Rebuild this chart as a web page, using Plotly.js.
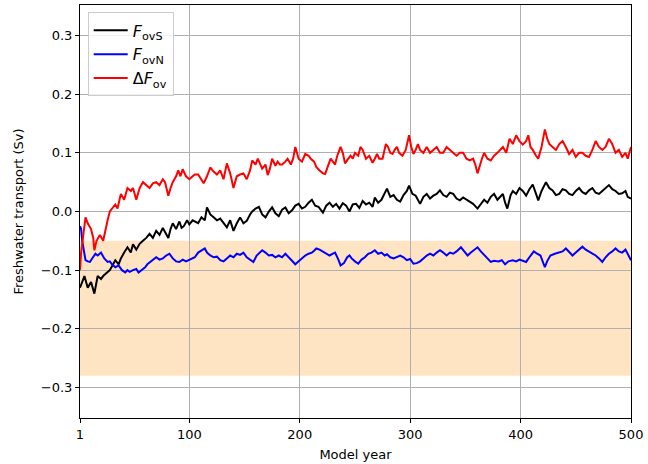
<!DOCTYPE html>
<html>
<head>
<meta charset="utf-8">
<script src="https://cdn.plot.ly/plotly-3.0.1.min.js"></script>
<style>html,body{margin:0;padding:0;background:#fff;}#chart{width:648px;height:464px;}</style>
</head>
<body>
<div id="chart"></div>
<script>
// F_ovS (black)
const yearsS = [1,3,5,8,11,14,17,20,22,25,28,31,33,36,38,41,44,47,49,52,55,58,61,64,67,70,73,76,78,81,83,85,88,91,93,95,98,100,103,105,108,111,114,116,119,122,125,128,131,134,137,140,143,146,149,152,155,157,160,163,166,169,172,175,178,181,184,187,190,193,196,199,202,205,208,211,214,217,221,224,227,230,233,236,239,242,245,248,251,254,257,260,263,266,268,271,274,277,279,282,285,288,291,294,297,299,302,305,309,312,315,318,321,324,327,330,333,336,339,342,345,348,351,354,357,361,364,367,370,373,376,379,382,384,386,388,391,393,396,399,402,405,408,411,414,416,419,423,426,429,432,435,438,441,444,447,450,453,456,459,462,465,468,471,474,477,480,483,486,489,492,495,497,500];
const fovS = [-0.13,-0.12,-0.11,-0.13,-0.12,-0.14,-0.11,-0.115,-0.11,-0.105,-0.10,-0.09,-0.083,-0.09,-0.08,-0.07,-0.061,-0.07,-0.056,-0.065,-0.055,-0.05,-0.045,-0.038,-0.045,-0.033,-0.04,-0.028,-0.035,-0.045,-0.03,-0.02,-0.03,-0.017,-0.028,-0.025,-0.015,-0.022,-0.015,-0.017,-0.02,-0.01,-0.015,0.007,-0.005,-0.01,-0.015,-0.012,-0.02,-0.027,-0.015,-0.033,-0.02,-0.01,-0.02,-0.016,-0.005,0.0,0.005,0.008,-0.005,-0.01,0.0,0.007,-0.003,-0.008,0.003,0.007,-0.003,0.002,0.01,0.013,0.005,0.008,0.015,0.02,0.01,0.008,-0.002,0.01,0.015,0.008,0.013,0.005,0.014,0.01,0.0,0.012,0.013,0.006,0.018,0.012,0.015,0.008,0.024,0.015,0.02,0.03,0.039,0.025,0.028,0.02,0.017,0.028,0.035,0.044,0.03,0.027,0.013,0.025,0.03,0.022,0.027,0.03,0.036,0.028,0.025,0.032,0.03,0.022,0.019,0.024,0.02,0.016,0.013,0.005,0.012,0.02,0.015,0.025,0.03,0.02,0.026,0.03,0.015,0.005,0.028,0.035,0.03,0.04,0.035,0.027,0.038,0.046,0.03,0.019,0.035,0.05,0.04,0.036,0.028,0.03,0.038,0.036,0.03,0.028,0.035,0.04,0.033,0.03,0.036,0.04,0.032,0.03,0.035,0.04,0.045,0.038,0.035,0.03,0.031,0.035,0.025,0.022];

// F_ovN (blue)
const yearsN = [1,2,3,5,6,8,10,12,15,17,19,20,23,26,28,30,33,36,39,42,44,46,49,52,54,57,60,62,65,68,70,73,76,79,82,85,88,91,94,97,100,103,105,108,110,112,114,116,119,122,125,128,131,134,137,140,143,146,149,152,155,158,161,163,166,169,172,175,178,181,184,187,190,193,196,199,202,205,208,211,213,215,218,221,224,227,230,232,235,237,240,243,245,247,250,253,256,259,262,265,268,271,274,277,279,282,285,288,291,294,297,300,303,306,309,312,315,318,321,324,327,330,333,336,339,342,346,349,352,355,358,361,364,367,370,373,376,380,383,386,389,393,396,399,402,405,408,412,415,418,420,422,424,427,431,435,438,441,444,447,450,453,456,459,462,465,468,471,474,477,480,483,486,489,492,495,497,500];
const fovN = [-0.025,-0.03,-0.05,-0.075,-0.083,-0.085,-0.086,-0.08,-0.072,-0.075,-0.072,-0.07,-0.08,-0.086,-0.085,-0.09,-0.095,-0.092,-0.1,-0.104,-0.1,-0.103,-0.1,-0.098,-0.104,-0.1,-0.095,-0.09,-0.085,-0.08,-0.078,-0.082,-0.08,-0.075,-0.072,-0.08,-0.085,-0.086,-0.082,-0.085,-0.082,-0.08,-0.078,-0.07,-0.068,-0.065,-0.063,-0.07,-0.075,-0.078,-0.077,-0.083,-0.085,-0.08,-0.075,-0.078,-0.072,-0.074,-0.07,-0.078,-0.082,-0.086,-0.075,-0.072,-0.066,-0.07,-0.075,-0.074,-0.078,-0.075,-0.078,-0.072,-0.078,-0.085,-0.09,-0.085,-0.08,-0.075,-0.072,-0.07,-0.067,-0.063,-0.065,-0.068,-0.072,-0.075,-0.072,-0.07,-0.082,-0.092,-0.088,-0.078,-0.075,-0.08,-0.085,-0.089,-0.082,-0.078,-0.072,-0.07,-0.066,-0.072,-0.07,-0.075,-0.073,-0.078,-0.08,-0.078,-0.075,-0.078,-0.083,-0.081,-0.089,-0.088,-0.085,-0.08,-0.075,-0.072,-0.075,-0.07,-0.066,-0.07,-0.075,-0.07,-0.072,-0.068,-0.061,-0.068,-0.075,-0.07,-0.066,-0.061,-0.068,-0.075,-0.08,-0.086,-0.084,-0.085,-0.083,-0.09,-0.085,-0.083,-0.085,-0.082,-0.084,-0.086,-0.078,-0.068,-0.072,-0.075,-0.085,-0.095,-0.085,-0.075,-0.072,-0.07,-0.068,-0.063,-0.07,-0.075,-0.07,-0.065,-0.06,-0.065,-0.068,-0.072,-0.075,-0.08,-0.086,-0.078,-0.072,-0.068,-0.063,-0.068,-0.07,-0.065,-0.072,-0.083];

// Delta F_ov (red)
const yearsD = [1,2,4,6,8,11,13,14,16,19,22,24,26,28,31,33,35,38,41,44,47,49,52,55,58,61,64,67,70,73,76,78,81,83,85,88,90,92,94,97,100,103,105,108,111,113,116,119,122,125,128,131,134,137,140,143,146,149,152,155,157,160,162,164,166,169,171,173,175,178,180,182,184,187,189,192,194,196,199,202,205,208,210,213,215,218,221,223,226,228,230,232,234,237,239,241,244,246,248,250,253,255,257,260,263,266,268,270,272,275,278,280,282,284,286,288,290,293,296,299,301,303,305,307,309,312,315,318,321,324,327,330,333,336,339,342,345,348,351,354,357,359,361,363,365,367,370,373,376,379,382,384,387,390,393,396,399,402,405,407,409,411,414,416,419,422,424,426,429,432,435,438,441,444,447,450,453,456,459,462,465,468,471,474,477,480,483,486,489,492,495,497,500];
const dFov = [-0.10,-0.07,-0.04,-0.01,-0.02,-0.03,-0.045,-0.066,-0.05,-0.04,-0.05,-0.03,-0.015,0.0,0.007,0.012,0.005,0.03,0.02,0.04,0.035,0.04,0.02,0.04,0.05,0.045,0.04,0.048,0.05,0.045,0.055,0.05,0.027,0.04,0.05,0.06,0.07,0.06,0.072,0.06,0.055,0.06,0.063,0.063,0.055,0.048,0.06,0.075,0.068,0.063,0.07,0.055,0.082,0.065,0.04,0.06,0.063,0.065,0.055,0.07,0.087,0.08,0.09,0.08,0.073,0.08,0.062,0.073,0.09,0.078,0.085,0.08,0.08,0.085,0.09,0.08,0.09,0.11,0.09,0.085,0.098,0.095,0.09,0.085,0.076,0.07,0.065,0.064,0.08,0.09,0.085,0.08,0.095,0.11,0.1,0.082,0.09,0.095,0.09,0.1,0.095,0.11,0.105,0.09,0.095,0.083,0.09,0.098,0.09,0.09,0.115,0.11,0.1,0.098,0.105,0.11,0.1,0.095,0.105,0.13,0.11,0.098,0.105,0.115,0.105,0.1,0.11,0.1,0.105,0.11,0.1,0.10,0.11,0.105,0.1,0.095,0.1,0.1,0.09,0.087,0.09,0.08,0.065,0.08,0.09,0.1,0.09,0.087,0.095,0.1,0.105,0.11,0.1,0.124,0.115,0.13,0.12,0.114,0.12,0.13,0.11,0.105,0.095,0.09,0.11,0.14,0.125,0.115,0.11,0.105,0.115,0.12,0.11,0.098,0.105,0.093,0.1,0.1,0.095,0.093,0.105,0.12,0.11,0.105,0.11,0.124,0.115,0.1,0.105,0.093,0.1,0.09,0.11];

const xTicks = [1,100,200,300,400,500];
const yTicks = [-0.3,-0.2,-0.1,0.0,0.1,0.2,0.3];
const band = [-0.28,-0.05];

const font = {family: 'DejaVu Sans, sans-serif', size: 13, color: '#000'};

const traces = [
  {x: yearsS, y: fovS, type: 'scatter', mode: 'lines', name: '<i>F</i><sub>ovS</sub>', line: {color: '#000000', width: 2}},
  {x: yearsN, y: fovN, type: 'scatter', mode: 'lines', name: '<i>F</i><sub>ovN</sub>', line: {color: '#0000ff', width: 2}},
  {x: yearsD, y: dFov, type: 'scatter', mode: 'lines', name: 'Δ<i>F</i><sub>ov</sub>', line: {color: '#ff0000', width: 2}}
];

const layout = {
  width: 648, height: 464,
  margin: {l: 80, r: 17, t: 5, b: 46},
  paper_bgcolor: '#fff', plot_bgcolor: '#fff',
  font: font,
  showlegend: true,
  legend: {x: 0.014, y: 0.982, xanchor: 'left', yanchor: 'top', bgcolor: 'rgba(255,255,255,0.8)', bordercolor: '#cccccc', borderwidth: 1, font: {family: 'DejaVu Sans, sans-serif', size: 16}, tracegroupgap: 0, itemwidth: 34},
  xaxis: {
    range: [1, 500], tickvals: xTicks, ticktext: xTicks.map(String),
    showline: true, linecolor: '#000', linewidth: 1, mirror: true,
    ticks: 'outside', ticklen: 4, tickcolor: '#000',
    showgrid: true, gridcolor: '#b0b0b0', gridwidth: 1, zeroline: false,
    title: {text: 'Model year', font: font, standoff: 9}
  },
  yaxis: {
    range: [-0.352, 0.352], tickvals: yTicks, tickformat: '.1f',
    showline: true, linecolor: '#000', linewidth: 1, mirror: true,
    ticks: 'outside', ticklen: 4, tickcolor: '#000',
    showgrid: true, gridcolor: '#b0b0b0', gridwidth: 1, zeroline: false,
    title: {text: 'Freshwater transport (Sv)', font: font, standoff: 14}
  },
  shapes: [
    {type: 'rect', xref: 'paper', yref: 'y', x0: 0, x1: 1, y0: band[0], y1: band[1], fillcolor: '#ffe4c4', line: {width: 0}, layer: 'below'}
  ]
};

Plotly.newPlot('chart', traces, layout, {displayModeBar: false, staticPlot: true});
</script>
</body>
</html>
